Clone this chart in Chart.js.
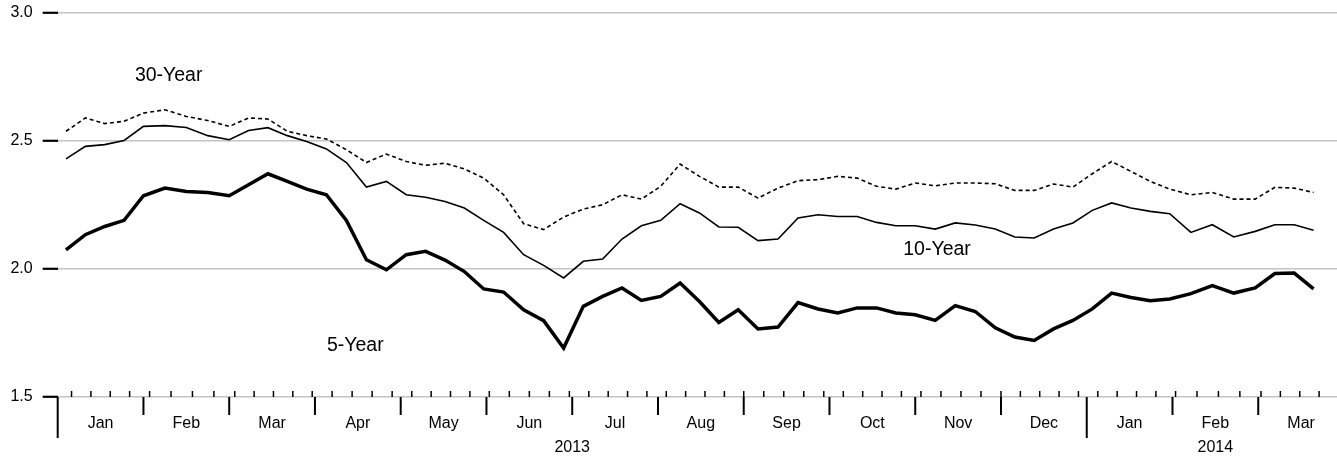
<!DOCTYPE html>
<html>
<head>
<meta charset="utf-8">
<script src="https://cdn.jsdelivr.net/npm/chart.js@4.4.1/dist/chart.umd.min.js"></script>
<style>
  html, body { margin: 0; padding: 0; background: #fff; overflow: hidden; }
  #wrap { width: 1337px; height: 457px; overflow: hidden; }
</style>
</head>
<body>
<div id="wrap"><canvas id="chartRates" width="1345" height="457"></canvas></div>
<script>
// weekly observations (Fridays)
var semanas = [
    '2013-01-04', '2013-01-11', '2013-01-18', '2013-01-25',
    '2013-02-01', '2013-02-08', '2013-02-15', '2013-02-22',
    '2013-03-01', '2013-03-08', '2013-03-15', '2013-03-22', '2013-03-29',
    '2013-04-05', '2013-04-12', '2013-04-19', '2013-04-26',
    '2013-05-03', '2013-05-10', '2013-05-17', '2013-05-24', '2013-05-31',
    '2013-06-07', '2013-06-14', '2013-06-21', '2013-06-28',
    '2013-07-05', '2013-07-12', '2013-07-19', '2013-07-26',
    '2013-08-02', '2013-08-09', '2013-08-16', '2013-08-23', '2013-08-30',
    '2013-09-06', '2013-09-13', '2013-09-20', '2013-09-27',
    '2013-10-04', '2013-10-11', '2013-10-18', '2013-10-25',
    '2013-11-01', '2013-11-08', '2013-11-15', '2013-11-22', '2013-11-29',
    '2013-12-06', '2013-12-13', '2013-12-20', '2013-12-27',
    '2014-01-03', '2014-01-10', '2014-01-17', '2014-01-24', '2014-01-31',
    '2014-02-07', '2014-02-14', '2014-02-21', '2014-02-28',
    '2014-03-07', '2014-03-14', '2014-03-21'
];

var cincoAnios = [
    2.075, 2.134, 2.166, 2.19, 2.286, 2.316, 2.303, 2.299,
    2.286, 2.329, 2.372, 2.342, 2.312, 2.29, 2.19, 2.036, 1.997,
    2.056, 2.069, 2.035, 1.99, 1.922, 1.91, 1.841, 1.798, 1.691,
    1.854, 1.893, 1.926, 1.877, 1.893, 1.945, 1.873, 1.791, 1.841,
    1.766, 1.773, 1.869, 1.844, 1.828, 1.848, 1.848, 1.828,
    1.821, 1.799, 1.857, 1.834, 1.77, 1.734, 1.721, 1.766, 1.799,
    1.844, 1.906, 1.889, 1.876, 1.883, 1.904, 1.935, 1.906, 1.926,
    1.982, 1.984, 1.922
];

var diezAnios = [
    2.43, 2.479, 2.486, 2.502, 2.557, 2.56, 2.553, 2.521,
    2.505, 2.541, 2.552, 2.521, 2.498, 2.469, 2.416, 2.32, 2.342,
    2.29, 2.28, 2.264, 2.238, 2.19, 2.143, 2.056, 2.014, 1.965,
    2.03, 2.039, 2.117, 2.169, 2.19, 2.255, 2.219, 2.164, 2.163,
    2.111, 2.117, 2.199, 2.212, 2.205, 2.205, 2.182, 2.169,
    2.169, 2.156, 2.18, 2.172, 2.156, 2.125, 2.121, 2.156, 2.18,
    2.229, 2.258, 2.238, 2.225, 2.216, 2.143, 2.173, 2.125, 2.147,
    2.173, 2.173, 2.151
];

var treintaAnios = [
    2.538, 2.59, 2.568, 2.577, 2.609, 2.622, 2.596, 2.58,
    2.557, 2.59, 2.586, 2.538, 2.521, 2.508, 2.466, 2.416, 2.449,
    2.42, 2.405, 2.413, 2.391, 2.355, 2.29, 2.177, 2.154, 2.203,
    2.234, 2.251, 2.29, 2.273, 2.323, 2.41, 2.362, 2.32, 2.32,
    2.277, 2.316, 2.345, 2.349, 2.362, 2.355, 2.323, 2.312,
    2.336, 2.325, 2.336, 2.336, 2.333, 2.307, 2.307, 2.332, 2.32,
    2.372, 2.42, 2.381, 2.342, 2.312, 2.29, 2.299, 2.273, 2.273,
    2.319, 2.316, 2.299
];

var meses = ['Jan', 'Feb', 'Mar', 'Apr', 'May', 'Jun', 'Jul', 'Aug', 'Sep', 'Oct', 'Nov', 'Dec',
             'Jan', 'Feb', 'Mar'];
var anios = ['2013', '2014'];
var yTicks = [1.5, 2.0, 2.5, 3.0];

// weekly minor ticks (Sundays)
var tickSemanas = [];
(function () {
    var d = new Date(Date.UTC(2013, 0, 6));
    var fin = Date.UTC(2014, 3, 1);
    while (d.getTime() < fin) {
        tickSemanas.push(d.toISOString().slice(0, 10));
        d = new Date(d.getTime() + 7 * 86400000);
    }
})();

// each month takes the same width on the axis
function posMes(fecha) {
    var p = fecha.split('-');
    var y = parseInt(p[0]), m = parseInt(p[1]) - 1, d = parseInt(p[2]);
    var dias = new Date(Date.UTC(y, m + 1, 0)).getUTCDate();
    return (y - 2013) * 12 + m + (d - 1) / dias;
}

function serie(valores) {
    return valores.map(function (v, i) { return { x: posMes(semanas[i]), y: v }; });
}

var FUENTE = "'Liberation Sans', Arial, Helvetica, sans-serif";

var etiquetasSerie = [
    { texto: '30-Year', x: 0.9, y: 2.755 },
    { texto: '10-Year', x: 9.86, y: 2.075 },
    { texto: '5-Year', x: 3.14, y: 1.702 }
];

var ejeFechas = {
    id: 'ejeFechas',
    afterDraw: function (chart) {
        var ctx = chart.ctx;
        var xs = chart.scales.x;
        var ys = chart.scales.y;
        var base = ys.getPixelForValue(1.5);
        ctx.save();
        ctx.strokeStyle = '#000';

        ctx.lineWidth = 1.5;
        tickSemanas.forEach(function (f) {
            var px = xs.getPixelForValue(posMes(f));
            ctx.beginPath();
            ctx.moveTo(px, base - 6);
            ctx.lineTo(px, base);
            ctx.stroke();
        });

        ctx.lineWidth = 2;
        for (var m = 0; m <= 15; m++) {
            var px = xs.getPixelForValue(m);
            var largo = (m % 12 === 0) ? 41 : 18;
            ctx.beginPath();
            ctx.moveTo(px, base);
            ctx.lineTo(px, base + largo);
            ctx.stroke();
        }

        ctx.fillStyle = '#000';
        ctx.font = '16px ' + FUENTE;
        ctx.textBaseline = 'middle';

        ctx.textAlign = 'right';
        yTicks.forEach(function (v) {
            ctx.fillText(v.toFixed(1), chart.chartArea.left - 25, ys.getPixelForValue(v));
        });

        ctx.textAlign = 'center';
        meses.forEach(function (nombre, i) {
            var cx = (xs.getPixelForValue(i) + xs.getPixelForValue(i + 1)) / 2;
            ctx.fillText(nombre, cx, base + 27);
        });
        anios.forEach(function (a, i) {
            var ini = i * 12, fin = Math.min(ini + 12, 15);
            var cx = (xs.getPixelForValue(ini) + xs.getPixelForValue(fin)) / 2;
            ctx.fillText(a, cx, base + 51);
        });

        ctx.font = '19.5px ' + FUENTE;
        ctx.textAlign = 'left';
        etiquetasSerie.forEach(function (e) {
            ctx.fillText(e.texto, xs.getPixelForValue(e.x), ys.getPixelForValue(e.y));
        });
        ctx.restore();
    }
};

document.addEventListener('DOMContentLoaded', function () {
    var canvas = document.getElementById('chartRates');
    var ctx = canvas.getContext('2d');

    new Chart(ctx, {
        type: 'line',
        data: {
            datasets: [{
                label: '5-Year',
                data: serie(cincoAnios),
                borderColor: '#000',
                borderWidth: 3.5,
                pointRadius: 0,
                tension: 0
            }, {
                label: '10-Year',
                data: serie(diezAnios),
                borderColor: '#000',
                borderWidth: 1.6,
                pointRadius: 0,
                tension: 0
            }, {
                label: '30-Year',
                data: serie(treintaAnios),
                borderColor: '#000',
                borderWidth: 1.6,
                borderDash: [4, 3],
                pointRadius: 0,
                tension: 0
            }]
        },
        options: {
            responsive: false,
            animation: false,
            layout: { padding: { left: 10, right: 1, top: 13, bottom: 60 } },
            plugins: {
                legend: { display: false },
                tooltip: { enabled: false }
            },
            scales: {
                x: {
                    type: 'linear',
                    min: 0,
                    max: 15,
                    display: false
                },
                y: {
                    min: 1.5,
                    max: 3.0,
                    afterBuildTicks: function (scale) {
                        scale.ticks = yTicks.map(function (v) { return { value: v }; });
                    },
                    afterFit: function (scale) { scale.width = 47.7; },
                    ticks: { display: false },
                    grid: {
                        color: '#c4c4c4',
                        lineWidth: 1.6,
                        drawTicks: true,
                        tickLength: 15,
                        tickColor: '#000',
                        tickWidth: 2.2
                    },
                    border: { display: false }
                }
            }
        },
        plugins: [ejeFechas]
    });
});
</script>
</body>
</html>
